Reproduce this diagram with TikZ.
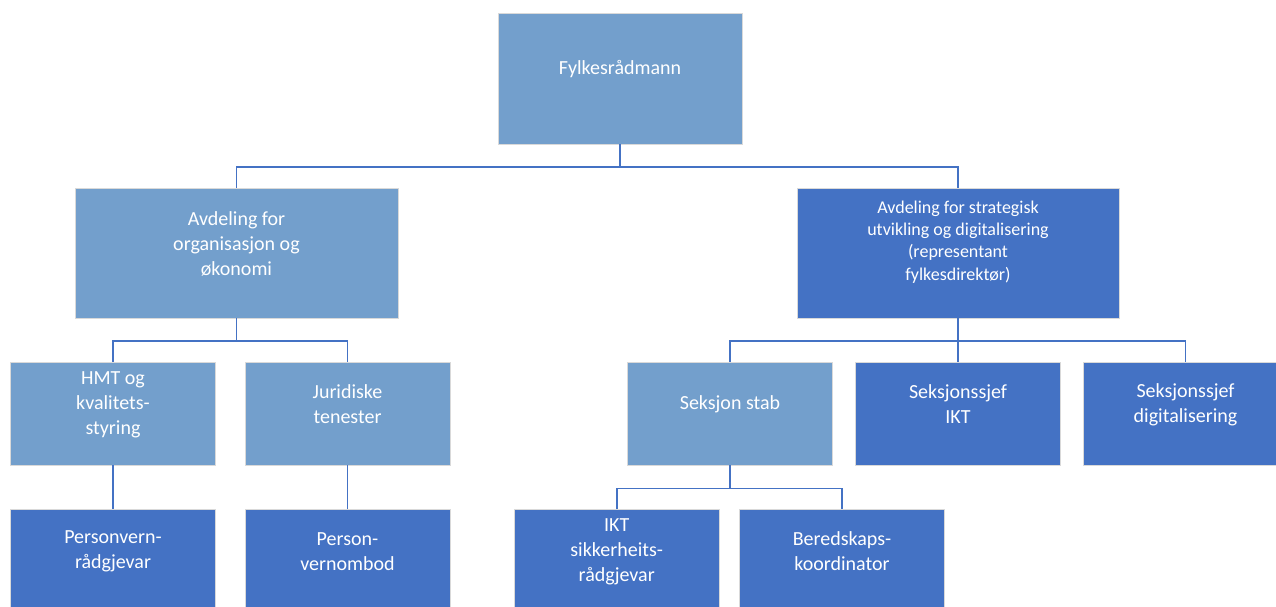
\documentclass[tikz,border=0pt]{standalone}
\usepackage{fontspec}
\setmainfont{Carlito}
\definecolor{lightblue}{HTML}{739FCC}
\definecolor{darkblue}{HTML}{4472C4}
\tikzset{
  box/.style={draw=gray!30, line width=0.6pt, minimum width=205pt, minimum height=103pt, inner sep=0pt},
  light/.style={box, fill=lightblue},
  dark/.style={box, fill=darkblue},
  boxtext/.style={text=white, align=center, font=\fontsize{20}{25}\selectfont},
  conn/.style={darkblue, line width=1.6pt},
}
\begin{document}
\begin{tikzpicture}[x=1pt,y=-1pt]
  \clip (0,0) rectangle (1276,606);
  \def\up{9} % text sits a bit above the box centre

  % level 1 and 2
  \node[light, minimum width=244pt, minimum height=131pt] (top) at (620,78.5) {};
  \node[light, minimum width=323pt, minimum height=130pt] (org) at (236.5,253) {};
  \node[dark, minimum width=322pt, minimum height=130pt] (strat) at (958,253) {};

  % level 3
  \node[light] (hmt) at (113,413.5) {};
  \node[light] (jur) at (347.5,413.5) {};
  \node[light] (stab) at (730,413.5) {};
  \node[dark] (ikt) at (958,413.5) {};
  \node[dark] (digi) at (1185.5,413.5) {};

  % level 4
  \node[dark] (pvr) at (113,560.5) {};
  \node[dark] (pvo) at (347.5,560.5) {};
  \node[dark] (sikk) at (616.7,560.5) {};
  \node[dark] (bered) at (842,560.5) {};

  % texts
  \node[boxtext] (topt) at ([yshift=\up]top.center) {Fylkesrådmann};
  \node[boxtext] (orgt) at ([yshift=\up]org.center) {Avdeling for\\organisasjon og\\økonomi};
  \node[boxtext, font=\fontsize{18}{22.3}\selectfont] (stratt) at ([yshift=11]strat.center)
       {Avdeling for strategisk\\utvikling og digitalisering\\(representant\\fylkesdirektør)};
  \node[boxtext] (hmtt) at ([yshift=\up]hmt.center) {HMT og\\kvalitets-\\styring};
  \node[boxtext] (jurt) at ([yshift=\up]jur.center) {Juridiske\\tenester};
  \node[boxtext] (stabt) at ([yshift=\up]stab.center) {Seksjon stab};
  \node[boxtext] (iktt) at ([yshift=\up]ikt.center) {Seksjonssjef\\IKT};
  \node[boxtext] (digit) at ([yshift=\up]digi.center) {Seksjonssjef\\digitalisering};
  \node[boxtext] (pvrt) at ([yshift=\up]pvr.center) {Personvern-\\rådgjevar};
  \node[boxtext] (pvot) at ([yshift=\up]pvo.center) {Person-\\vernombod};
  \node[boxtext] (sikkt) at ([yshift=\up]sikk.center) {IKT\\sikkerheits-\\rådgjevar};
  \node[boxtext] (beredt) at ([yshift=\up]bered.center) {Beredskaps-\\koordinator};

  % connectors
  \coordinate (bus1) at (620,166.7);
  \coordinate (bus2) at (236.5,340.7);
  \coordinate (bus3) at (958,340.7);
  \coordinate (bus4) at (730,488.3);
  \draw[conn] (top.south) -- (bus1) -| (org.north);
  \draw[conn] (bus1) -| (strat.north);
  \draw[conn] (org.south) -- (bus2) -| (hmt.north);
  \draw[conn] (bus2) -| (jur.north);
  \draw[conn] (strat.south) -- (bus3) -| (stab.north);
  \draw[conn] (bus3) -- (ikt.north);
  \draw[conn] (bus3) -| (digi.north);
  \draw[conn] (stab.south) -- (bus4) -| (sikk.north);
  \draw[conn] (bus4) -| (bered.north);
  \draw[conn] (hmt) -- (pvr);
  \draw[conn] (jur) -- (pvo);
\end{tikzpicture}
\end{document}
